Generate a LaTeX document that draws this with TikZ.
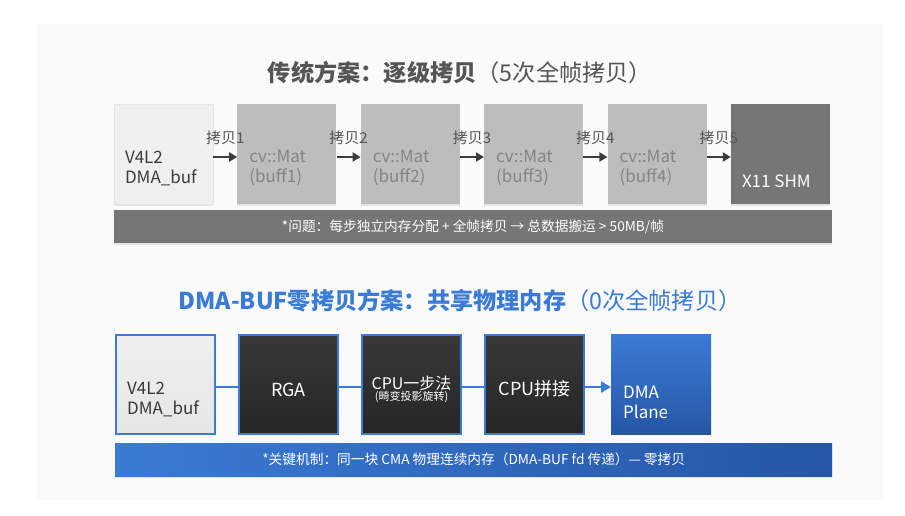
\documentclass[tikz,border=0pt]{standalone}
\usepackage{fontspec}
\setmainfont{Noto Sans CJK SC}
\usetikzlibrary{arrows.meta,positioning,shadows}
\definecolor{panel}{HTML}{FAFAFA}
\definecolor{ink}{HTML}{3C3C3C}
\definecolor{muted}{HTML}{555555}
\definecolor{paper}{HTML}{EFEFEF}
\definecolor{paperdark}{HTML}{E6E6E6}
\definecolor{buffgray}{HTML}{BDBDBD}
\definecolor{bufftext}{HTML}{858585}
\definecolor{slate}{HTML}{767676}
\definecolor{accent}{HTML}{3A7BD5}
\definecolor{deepblue}{HTML}{2656A5}
\definecolor{coal}{HTML}{383838}
\definecolor{coaldark}{HTML}{262626}
\tikzset{>=Latex,x=1pt,y=-1pt,
  every node/.style={inner sep=0pt},
  soft/.style={drop shadow={opacity=.18,shadow xshift=0pt,shadow yshift=-1.5pt}},
  oldbox/.style={soft,minimum width=99pt,minimum height=100pt,fill=buffgray},
  newbox/.style={minimum width=99pt,minimum height=99pt,draw=accent,line width=2pt,top color=coal,bottom color=coaldark},
  boxtext/.style={anchor=west,align=left,font=\fontsize{17}{20}\selectfont},
  whitetext/.style={text=white,font=\fontsize{18}{20}\selectfont},
  cpy/.style={draw=ink,line width=2.5pt,-{Triangle[length=8pt,width=9pt]}},
  cpylabel/.style={midway,above=11pt,text=muted,font=\fontsize{15}{15}\selectfont},
  link/.style={draw=accent,line width=2.5pt},
  bar/.style={soft,anchor=north west,minimum height=33pt,text=white,font=\fontsize{13.7}{14}\selectfont},
  title/.style={font=\fontsize{23.2}{24}\selectfont}}
\begin{document}
\begin{tikzpicture}
\useasboundingbox[fill=white](0,0)rectangle(905,515);
\fill[panel](37,24)rectangle(883,500);
% traditional pipeline
\node[title,text=muted](oldttl)at(460,73){\bfseries 传统方案：逐级拷贝\mdseries（5次全帧拷贝）};
\node[oldbox,fill=paper,draw=paperdark](src)at(163.5,154){};
\foreach \i/\p in {1/src,2/buf1,3/buf2,4/buf3}
  \node[oldbox,right=24pt of \p](buf\i){};
\node[oldbox,fill=slate,right=24pt of buf4](shm){};
\node[boxtext,text=ink](srct)at([xshift=11pt,yshift=-14pt]src.west){V4L2\\DMA\_buf};
\foreach \i in {1,...,4}
  \node[boxtext,text=bufftext](buft\i)at([xshift=12pt,yshift=-14pt]buf\i.west){cv::Mat\\(buff\i)};
\node[boxtext,text=white](shmt)at([xshift=11pt,yshift=-27pt]shm.west){X11 SHM};
\foreach \a/\b/\k in {src/buf1/1,buf1/buf2/2,buf2/buf3/3,buf3/buf4/4,buf4/shm/5}
  \draw[cpy]([yshift=-3pt]\a.east)--([yshift=-3pt]\b.west)node[cpylabel](cpy\k){拷贝\k};
\node[bar,fill=slate,minimum width=718pt](oldnote)at([yshift=-6pt]src.south west){*问题：每步独立内存分配 + 全帧拷贝 → 总数据搬运 > 50MB/帧};
% zero-copy pipeline
\node[title,text=accent](newttl)at(460,301){\bfseries DMA-BUF零拷贝方案：共享物理内存\mdseries（0次全帧拷贝）};
\node[newbox,top color=paper,bottom color=paperdark](cam)at(165.5,384.5){};
\node[newbox,right=22pt of cam](rga){};
\node[newbox,right=22pt of rga](warp){};
\node[newbox,right=22pt of warp](stitch){};
\node[minimum width=100pt,minimum height=100pt,top color=accent,bottom color=deepblue,right=26pt of stitch](plane){};
\node[boxtext,text=coal](camt)at([xshift=12pt,yshift=-15pt]cam.west){V4L2\\DMA\_buf};
\node[whitetext](rgat)at([yshift=-5pt]rga.center){RGA};
\node[text=white,font=\fontsize{16}{16}\selectfont](warpt)at([yshift=1.5pt]warp.center){CPU一步法};
\node[text=white,font=\fontsize{11}{11}\selectfont](warps)at([yshift=-12.5pt]warp.center){(畸变投影旋转)};
\node[whitetext](stitcht)at([yshift=-4pt]stitch.center){CPU拼接};
\node[boxtext,text=white](planet)at([xshift=12pt,yshift=-18pt]plane.west){DMA\\Plane};
\foreach \a/\b in {cam/rga,rga/warp,warp/stitch}
  \draw[link]([yshift=-2.5pt]\a.east)--([yshift=-2.5pt]\b.west);
\draw[link,-{Triangle[length=10pt,width=11pt]}]([yshift=-2.5pt]stitch.east)--([yshift=-2.5pt]plane.west);
\node[bar,left color=accent,right color=deepblue,minimum width=717pt](newnote)at([yshift=-8pt]cam.south west){*关键机制：同一块 CMA 物理连续内存（DMA-BUF fd 传递）— 零拷贝};
\end{tikzpicture}
\end{document}
